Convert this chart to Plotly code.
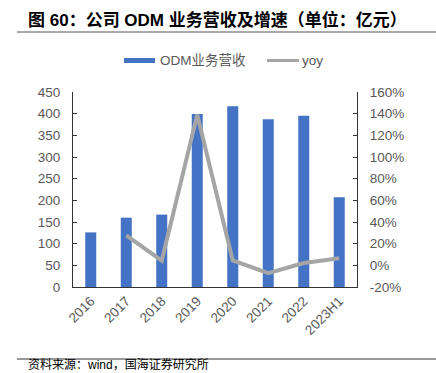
import plotly.graph_objects as go

categories = ["2016", "2017", "2018", "2019", "2020", "2021", "2022", "2023H1"]
odm_revenue = [126, 160, 167, 399, 417, 387, 395, 207]
yoy = [None, 0.277, 0.044, 1.39, 0.045, -0.072, 0.021, 0.065]

left_ticks = list(range(0, 451, 50))
right_ticks = [-0.2, 0, 0.2, 0.4, 0.6, 0.8, 1.0, 1.2, 1.4, 1.6]
right_tick_text = ["-20%", "0%", "20%", "40%", "60%", "80%", "100%", "120%", "140%", "160%"]

W, H = 436, 373
L, R, T, B = 73, 357, 92, 287

def px(x):
    return (x - L) / (R - L)

def py(y):
    return (B - y) / (B - T)

FONT = "Liberation Sans, Arial, Noto Sans CJK SC, sans-serif"
GRAY = "#595959"

fig = go.Figure()
fig.add_trace(go.Bar(x=categories, y=odm_revenue, name="ODM业务营收",
                     marker=dict(color="#4472C4", line=dict(width=0)),
                     yaxis="y", showlegend=False))
fig.add_trace(go.Scatter(x=categories, y=yoy, name="yoy", mode="lines",
                         line=dict(color="#A5A5A5", width=4),
                         yaxis="y2", showlegend=False))

fig.update_layout(
    width=W, height=H,
    margin=dict(l=L, r=W - R, t=T, b=H - B, pad=0, autoexpand=False),
    paper_bgcolor="white", plot_bgcolor="white",
    bargap=0.69,
    font=dict(family=FONT, size=13, color=GRAY),
    xaxis=dict(showline=True, linecolor="#333", linewidth=1, ticks="",
               tickangle=-45, tickfont=dict(size=13.5, color=GRAY),
               showgrid=False, automargin=False),
    yaxis=dict(range=[0, 450], tickvals=left_ticks, showline=True, linecolor="#333",
               linewidth=1, ticks="inside", ticklen=4, tickcolor="#333",
               showgrid=False, zeroline=False, ticklabelstandoff=9, automargin=False,
               tickfont=dict(size=13.5, color=GRAY)),
    yaxis2=dict(range=[-0.2, 1.6], tickvals=right_ticks, ticktext=right_tick_text,
                overlaying="y", side="right", showline=True, linecolor="#333",
                linewidth=1, ticks="inside", ticklen=4, tickcolor="#333",
                showgrid=False, zeroline=False, ticklabelstandoff=9, automargin=False,
                tickfont=dict(size=13.5, color=GRAY)),
)

shapes = [
    dict(type="line", xref="paper", yref="paper", x0=px(17), x1=px(436), y0=py(32), y1=py(32),
         line=dict(color="#555", width=1)),
    dict(type="line", xref="paper", yref="paper", x0=px(17), x1=px(436), y0=py(359), y1=py(359),
         line=dict(color="#333", width=1)),
    dict(type="rect", xref="paper", yref="paper", x0=px(124), x1=px(155), y0=py(63), y1=py(58),
         fillcolor="#4472C4", line=dict(width=0)),
    dict(type="line", xref="paper", yref="paper", x0=px(267), x1=px(299), y0=py(60.5), y1=py(60.5),
         line=dict(color="#A5A5A5", width=3)),
]
annotations = [
    dict(text="<b>图 60：公司 ODM 业务营收及增速（单位：亿元）</b>", xref="paper", yref="paper",
         x=px(26), y=py(20), xanchor="left", yanchor="middle", showarrow=False,
         font=dict(family=FONT, size=17, color="black")),
    dict(text="ODM业务营收", xref="paper", yref="paper", x=px(158), y=py(60.5),
         xanchor="left", yanchor="middle", showarrow=False,
         font=dict(family=FONT, size=13.5, color=GRAY)),
    dict(text="yoy", xref="paper", yref="paper", x=px(300), y=py(60.5),
         xanchor="left", yanchor="middle", showarrow=False,
         font=dict(family=FONT, size=13.5, color=GRAY)),
    dict(text="资料来源：wind，国海证券研究所", xref="paper", yref="paper", x=px(26), y=py(373.5),
         xanchor="left", yanchor="bottom", showarrow=False,
         font=dict(family=FONT, size=12, color="black")),
]
fig.update_layout(shapes=shapes, annotations=annotations)

fig.write_html("out.html", config={"displayModeBar": False},
               post_script="document.body.style.margin='0';document.body.style.overflow='hidden';")
